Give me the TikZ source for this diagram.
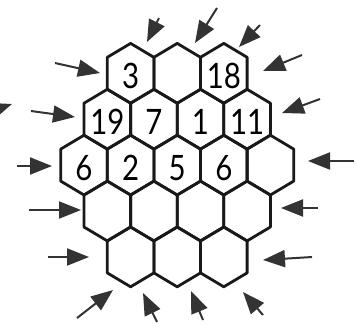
\documentclass[tikz,border=0pt]{standalone}
\usepackage{fontspec}
\setmainfont{Lato}
\usetikzlibrary{positioning,arrows.meta}

\begin{document}
\begin{tikzpicture}[
    x=0.5pt, y=0.5pt,
    cell/.style = {draw=black!90, line width=1.4pt, line join=round},
    num/.style  = {font=\fontsize{17.5}{17.5}\selectfont, inner sep=0pt,
                   xscale=0.84, yshift=-1.5pt},
    arr/.style  = {-{Triangle[length=11pt, width=8.5pt]}, line width=1pt,
                   draw=black!80},
]

\useasboundingbox (0,0) rectangle (357,323);
\clip (0,0) rectangle (357,323);

% --- hexagonal board: rows of 3,4,5,4,3 cells ---
\foreach \r/\n in {1/3, 2/4, 3/5, 4/4, 5/3} {
  \foreach \k in {1,...,\n} {
    \pgfmathsetmacro{\cx}{84 + 23.3*(5-\n) + 46.6*(\k-1)}
    \pgfmathsetmacro{\cy}{249.7 - 45.9*(\r-1)}
    \draw[cell] (\cx,\cy) +(0,29.9) -- +(23.3,16) -- +(23.3,-16)
                -- +(0,-29.9) -- +(-23.3,-16) -- +(-23.3,16) -- cycle;
    \node[inner sep=0pt] (c\r-\k) at (\cx,\cy) {};
  }
}

% --- given numbers ---
\node[num] at (c1-1) {3};
\node[num] at (c1-3) {18};
\node[num] at (c2-1) {19};
\node[num] at (c2-2) {7};
\node[num] at (c2-3) {1};
\node[num] at (c2-4) {11};
\node[num] at (c3-1) {6};
\node[num] at (c3-2) {2};
\node[num] at (c3-3) {5};
\node[num] at (c3-4) {6};

% --- arrows pointing at the lines of cells ---
\foreach \i/\tx/\ty/\hx/\hy in {
    1/159/305/147/281, 2/217/315/195/280, 3/260/298/239/276,
    4/302/268/263/252, 5/320/224/282/210, 6/354/162/308/162,
    7/318/115/281/115, 8/312/66/263/63,   9/263/8/243/31,
    10/203/3/191/32,   11/157/1/143/30,   12/77/5/113/33,
    13/48/66/89/66,    14/29/113/81/113,  15/17/157/52/157,
    16/31/212/75/206,  17/55/260/100/250, 18/-20/208/12/219} {
  \coordinate (t\i) at (\tx,\ty);
  \coordinate (h\i) at (\hx,\hy);
  \draw[arr] (t\i) -- (h\i);
}

\end{tikzpicture}
\end{document}
